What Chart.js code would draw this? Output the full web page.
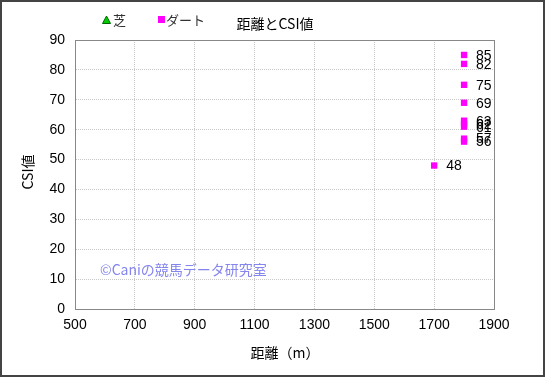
<!DOCTYPE html>
<html lang="ja">
<head>
<meta charset="UTF-8">
<title>距離とCSI値</title>
<script src="https://cdn.jsdelivr.net/npm/chart.js"></script>
<style>
  html, body { margin: 0; padding: 0; background: #fff; }
  #wrap { width: 545px; height: 377px; position: relative; }
</style>
</head>
<body>
<div id="wrap"><canvas id="myChart" width="545" height="377"></canvas></div>
<script>
  // data
  const turfDist = [];
  const turfCsi = [];
  const dirtDist = [1800, 1800, 1800, 1800, 1800, 1800, 1800, 1800, 1800, 1700];
  const dirtCsi = [85, 82, 75, 69, 63, 62, 61, 57, 56, 48];

  const chartTitle = "距離とCSI値";
  const xTitle = "距離（m）";
  const yTitle = "CSI値";
  const watermark = "©Caniの競馬データ研究室";

  const latin = "Arial, 'Liberation Sans', sans-serif";
  const jp = "'Noto Sans CJK JP', sans-serif";

  const toPoints = (xs, ys) => xs.map((x, i) => ({ x: x, y: ys[i] }));

  // draws frame, titles, legend, watermark and value labels
  const decor = {
    id: "decor",
    beforeDraw(chart) {
      const ctx = chart.ctx;
      ctx.save();
      ctx.fillStyle = "#fff";
      ctx.fillRect(0, 0, chart.width, chart.height);
      ctx.restore();
    },
    afterDraw(chart) {
      const ctx = chart.ctx;
      const a = chart.chartArea;
      ctx.save();

      // plot area box
      ctx.strokeStyle = "#888";
      ctx.lineWidth = 1;
      ctx.strokeRect(a.left + 0.5, a.top + 0.5, a.right - a.left, a.bottom - a.top);

      // outer frame
      ctx.strokeStyle = "#444";
      ctx.lineWidth = 2;
      ctx.strokeRect(1, 1, chart.width - 2, chart.height - 2);

      // title
      ctx.fillStyle = "#000";
      ctx.textAlign = "center";
      ctx.textBaseline = "middle";
      ctx.font = "14px " + jp;
      ctx.fillText(chartTitle, 275, 24);

      // legend
      ctx.fillStyle = "#00cc00";
      ctx.strokeStyle = "#006600";
      ctx.lineWidth = 1;
      ctx.beginPath();
      ctx.moveTo(106.5, 16);
      ctx.lineTo(110.5, 23.5);
      ctx.lineTo(102.5, 23.5);
      ctx.closePath();
      ctx.fill();
      ctx.stroke();
      ctx.fillStyle = "#ff00ff";
      ctx.fillRect(158, 16, 7, 7);
      ctx.fillStyle = "#333";
      ctx.textAlign = "left";
      ctx.font = "13px " + jp;
      ctx.fillText("芝", 113, 20);
      ctx.fillText("ダート", 166, 20);

      // axis titles
      ctx.fillStyle = "#000";
      ctx.textAlign = "center";
      ctx.font = "14px " + jp;
      ctx.fillText(xTitle, 285, 353);
      ctx.save();
      ctx.translate(28, 172);
      ctx.rotate(-Math.PI / 2);
      ctx.fillText(yTitle, 0, 0);
      ctx.restore();

      // watermark
      ctx.fillStyle = "#8585ee";
      ctx.textAlign = "left";
      ctx.font = "14px " + jp;
      ctx.fillText(watermark, 100, 270);

      // value labels next to each point
      ctx.fillStyle = "#000";
      ctx.font = "14px " + latin;
      const meta = chart.getDatasetMeta(1);
      meta.data.forEach((pt, i) => {
        ctx.fillText(String(dirtCsi[i]), pt.x + 12, pt.y + 1);
      });

      ctx.restore();
    }
  };

  const ctx = document.getElementById("myChart").getContext("2d");
  new Chart(ctx, {
    type: "scatter",
    data: {
      datasets: [
        {
          label: "芝",
          data: toPoints(turfDist, turfCsi),
          pointStyle: "triangle",
          backgroundColor: "#00cc00",
          borderColor: "#006600",
          pointRadius: 4
        },
        {
          label: "ダート",
          data: toPoints(dirtDist, dirtCsi),
          pointStyle: "rect",
          backgroundColor: "#ff00ff",
          borderColor: "#ff00ff",
          borderWidth: 0,
          pointRadius: 4.5
        }
      ]
    },
    options: {
      responsive: false,
      animation: false,
      layout: { padding: { left: 0, top: 40, right: 51, bottom: 0 } },
      plugins: {
        legend: { display: false },
        title: { display: false },
        tooltip: { enabled: false }
      },
      scales: {
        x: {
          type: "linear",
          min: 500,
          max: 1900,
          afterFit: s => { s.height = 68; },
          ticks: {
            stepSize: 200,
            color: "#000",
            font: { family: latin, size: 14 },
            maxRotation: 0,
            padding: 8,
            callback: v => String(v)
          },
          grid: { color: "#c8c8c8", drawTicks: false },
          border: { display: true, color: "#888", dash: [1, 1] }
        },
        y: {
          min: 0,
          max: 90,
          afterFit: s => { s.width = 75; },
          ticks: {
            stepSize: 10,
            color: "#000",
            font: { family: latin, size: 14 },
            padding: 10
          },
          grid: { color: "#c8c8c8", drawTicks: false },
          border: { display: true, color: "#888", dash: [1, 1] }
        }
      }
    },
    plugins: [decor]
  });
</script>
</body>
</html>
